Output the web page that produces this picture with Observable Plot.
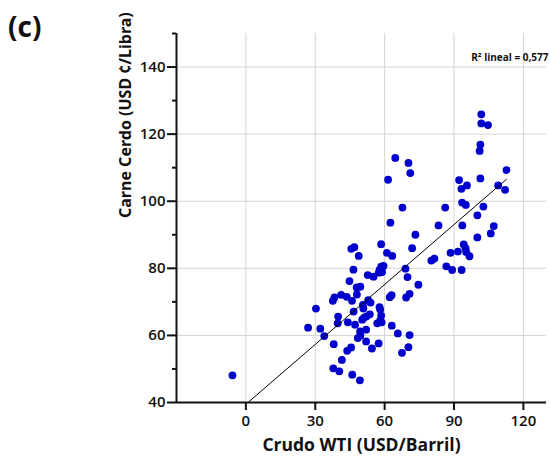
<!DOCTYPE html>
<html>
<head>
<meta charset="utf-8">
<script src="https://cdn.jsdelivr.net/npm/d3@7"></script>
<script src="https://cdn.jsdelivr.net/npm/@observablehq/plot@0.6"></script>
<style>
  html, body { margin: 0; padding: 0; background: #fff; }
  #wrap { position: relative; width: 550px; height: 458px; font-family: "Open Sans", "Noto Sans", sans-serif; }
  #panel { position: absolute; left: 8px; top: 7px; font-size: 28px; font-weight: 700; color: #111; }
</style>
</head>
<body>
<div id="wrap"><div id="panel">(c)</div><div id="chart"></div></div>
<script>
const wti = [101.8,101.8,104.7,101.4,101.1,112.7,64.6,70.3,71.1,61.5,92.2,101.4,93.2,95.6,109.1,112.1,93.5,95.1,67.7,86.2,102.7,100.1,62.5,83.3,93.6,107.2,105.9,100.1,73.3,94.2,95.0,95.3,96.7,88.5,91.7,81.5,80.2,86.7,89.2,93.3,71.9,58.5,61.0,63.3,
  69.0,69.9,74.6,58.5,59.5,57.8,58.9,57.5,52.7,55.2,62.2,63.0,69.3,70.8,52.9,53.9,57.8,58.1,53.6,58.5,58.1,56.8,58.7,63.1,65.7,70.8,52.0,57.4,54.5,70.3,67.5,52.0,
  45.6,46.9,48.8,46.5,44.8,47.9,49.5,48.0,41.2,43.6,38.3,37.6,45.9,50.6,50.8,30.3,46.6,39.9,51.1,50.3,52.2,39.7,44.1,47.2,26.9,32.2,49.4,33.9,49.5,48.4,38.0,45.5,43.8,41.5,37.8,40.4,46.0,49.3,-5.8];
const pork = [125.9,123.2,122.7,116.9,115.0,109.3,112.9,111.4,108.4,106.4,106.3,106.8,103.7,104.7,104.7,103.4,99.6,98.9,98.1,98.1,98.4,95.8,93.6,92.8,92.8,92.6,90.4,89.2,90.0,87.1,86.0,84.8,83.6,84.6,85.0,82.9,82.3,80.6,79.5,79.5,86.0,87.2,84.6,83.7,
  79.9,77.4,75.1,80.5,80.7,79.5,78.9,78.7,78.0,77.5,71.4,72.0,71.3,72.4,70.5,69.8,68.4,67.7,66.3,65.9,64.5,63.6,63.9,62.9,60.6,60.1,58.2,57.6,56.1,56.5,54.8,61.7,
  85.8,86.3,83.7,79.6,76.2,74.3,74.5,72.2,72.1,71.5,71.3,70.3,70.3,69.1,68.0,68.0,67.1,65.6,65.3,64.7,65.7,63.6,63.9,63.2,62.3,62.0,61.2,59.8,60.0,59.2,57.4,56.4,55.4,52.7,50.2,49.3,48.3,46.6,48.1];
const xTicks = [0, 30, 60, 90, 120];
const yTicks = [40, 60, 80, 100, 120, 140];
const yMinorTicks = [50, 70, 90, 110, 130, 150];
const xLabel = "Crudo WTI (USD/Barril)";
const yLabel = "Carne Cerdo (USD ¢/Libra)";
const r2Label = "R² lineal = 0,577";

const data = wti.map((x, i) => ({x, y: pork[i]}));

const chart = Plot.plot({
  width: 550,
  height: 458,
  marginLeft: 176,
  marginRight: 4,
  marginTop: 33,
  marginBottom: 56,
  style: {fontFamily: "'Open Sans', 'Noto Sans', sans-serif", fontSize: "15px", fontWeight: 600, color: "#111", background: "transparent"},
  x: {domain: [-30, 130]},
  y: {domain: [40, 150]},
  marks: [
    Plot.gridX(xTicks, {stroke: "#d4d4d4", strokeOpacity: 1, strokeWidth: 1}),
    Plot.gridY(yTicks.filter(d => d > 40), {stroke: "#d4d4d4", strokeOpacity: 1, strokeWidth: 1}),
    Plot.dot(data, {x: "x", y: "y", r: 3.9, fill: "#0000cc", stroke: "none"}),
    Plot.linearRegressionY(data, {x: "x", y: "y", stroke: "#000", strokeWidth: 1, ci: 0, clip: true}),
    Plot.ruleX([-30], {stroke: "#111", strokeWidth: 2}),
    Plot.ruleY([40], {stroke: "#111", strokeWidth: 2}),
    Plot.axisX({ticks: xTicks, tickSize: 8, tickPadding: 5, tickFormat: d => d, label: null, stroke: "#111", strokeWidth: 2, fontSize: 15, fontWeight: 600}),
    Plot.axisY({ticks: yTicks, tickSize: 9, tickPadding: 2, tickFormat: d => d, label: null, stroke: "#111", strokeWidth: 2, fontSize: 15, fontWeight: 600}),
    Plot.axisY({ticks: yMinorTicks, tickSize: 4, tickFormat: () => "", label: null, stroke: "#111", strokeWidth: 2}),
    Plot.text([xLabel], {frameAnchor: "bottom", dy: 48, fontSize: 17.5, fontWeight: 700, fill: "#111"}),
    Plot.text([yLabel], {frameAnchor: "left", rotate: -90, dx: -51, fontSize: 16, fontWeight: 700, fill: "#111", fontFamily: "'Noto Sans', 'Open Sans', sans-serif"}),
    Plot.text([r2Label], {frameAnchor: "top-right", textAnchor: "end", dx: 2, dy: 20, fontSize: 10, fontWeight: 700, fill: "#111"})
  ]
});
document.getElementById("chart").appendChild(chart);
</script>
</body>
</html>
